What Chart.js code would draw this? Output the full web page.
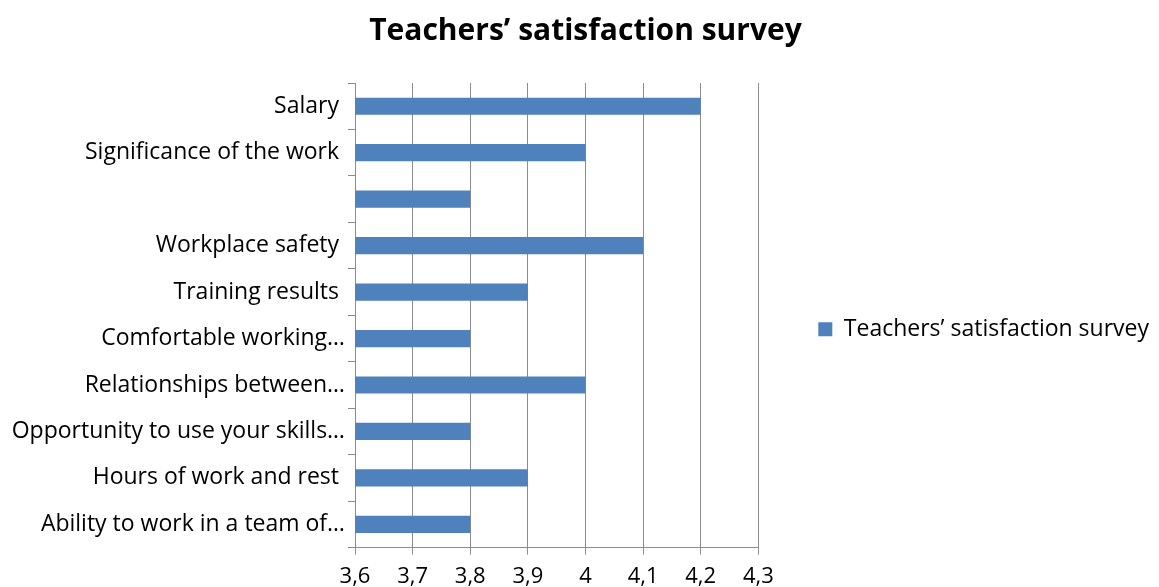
<!DOCTYPE html>
<html>
<head>
<meta charset="utf-8">
<script src="https://cdn.jsdelivr.net/npm/chart.js@4"></script>
<style>
html,body{margin:0;padding:0;background:#fff;}
#wrap{width:1159px;height:587px;}
</style>
</head>
<body>
<div id="wrap"><canvas id="c" width="1159" height="587"></canvas></div>
<script>
const categories = [
  "Salary ",
  "Significance of the work ",
  "",
  "Workplace safety ",
  "Training results ",
  "Comfortable working…",
  "Relationships between…",
  "Opportunity to use your skills…",
  "Hours of work and rest ",
  "Ability to work in a team of…"
];
const seriesName = "Teachers’ satisfaction survey";
const values = [4.2, 4.0, 3.8, 4.1, 3.9, 3.8, 4.0, 3.8, 3.9, 3.8];
const xMin = 3.6, xMax = 4.3, xStep = 0.1;

const FONT = "'Open Sans', sans-serif";
const GRID = "#8c8c8c";

new Chart(document.getElementById('c'), {
  type: 'bar',
  data: {
    labels: categories,
    datasets: [{
      label: seriesName,
      data: values,
      backgroundColor: '#4F81BD',
      borderWidth: 0,
      barPercentage: 0.74,
      categoryPercentage: 0.5
    }]
  },
  options: {
    indexAxis: 'y',
    responsive: false,
    animation: false,
    layout: { padding: { left: 12, right: 0, top: 8, bottom: 0 } },
    plugins: {
      title: {
        display: true,
        text: seriesName,
        color: '#000',
        font: { family: FONT, size: 30, weight: 'bold' },
        padding: { top: 5, bottom: 34 }
      },
      legend: {
        position: 'right',
        maxWidth: 600,
        title: { display: true, text: ' ', font: { size: 12 }, padding: { top: 0, bottom: 49 } },
        labels: {
          color: '#000',
          font: { family: FONT, size: 23 },
          boxWidth: 14,
          boxHeight: 14,
          padding: 60
        }
      },
      tooltip: { enabled: false }
    },
    scales: {
      x: {
        min: xMin,
        max: xMax,
        ticks: {
          stepSize: xStep,
          color: '#000',
          font: { family: FONT, size: 22 },
          padding: 9,
          callback: function(v) {
            return String(Number(Number(v).toFixed(1))).replace('.', ',');
          }
        },
        grid: { color: GRID, lineWidth: 1, tickLength: 7, tickColor: GRID },
        border: { color: GRID, width: 1 },
        afterFit: function(scale) { scale.height -= 12; }
      },
      y: {
        ticks: {
          color: '#000',
          font: { family: FONT, size: 23 },
          padding: 3,
          autoSkip: false
        },
        grid: { drawOnChartArea: false, offset: true, tickLength: 7, color: GRID },
        border: { color: GRID, width: 1 },
        afterFit: function(scale) { scale.width = 343; }
      }
    }
  }
});
</script>
</body>
</html>
